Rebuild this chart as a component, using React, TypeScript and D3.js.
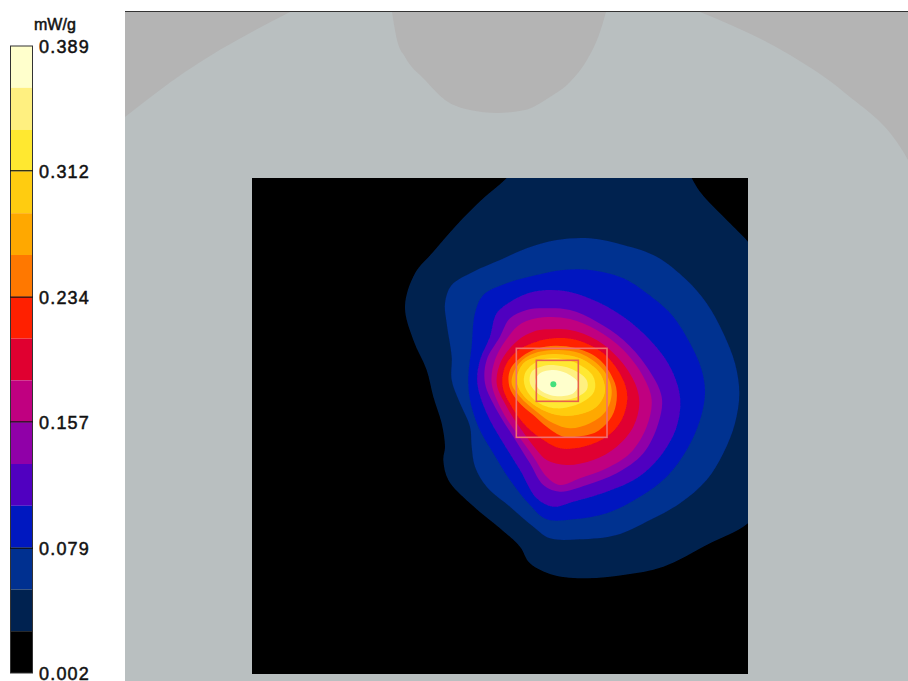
import * as d3 from "d3";

type Pt = [number, number];

// colour bar, top band to bottom band
const bandColors = [
  "#ffffcc", "#fff080", "#ffe830", "#ffcc10", "#ffa800", "#ff7800", "#ff2000", "#e00030",
  "#c00080", "#9000a8", "#5000c0", "#0018c0", "#003090", "#002250", "#000000",
];
const tickValues = [0.389, 0.312, 0.234, 0.157, 0.079, 0.002];
const innerTicks = [0.312, 0.234, 0.157, 0.079];

// SAR contours in scan units, lowest level first
const level1: Pt[] = [[350, 24], [390, -30], [880, -30], [905, 24], [930, 65], [990, 130], [1050, 190], [1074, 215], [1140, 300], [1140, 980], [1074, 1060], [950, 1125], [820, 1190], [700, 1215], [590, 1225], [490, 1215], [420, 1180], [390, 1130], [330, 1075], [240, 1000], [175, 930], [160, 870], [165, 830], [155, 760], [130, 680], [110, 600], [70, 510], [45, 410], [75, 310], [130, 245], [200, 165], [280, 85]];
const level2: Pt[] = [[500, 210], [600, 205], [700, 225], [800, 260], [890, 330], [950, 400], [1000, 490], [1035, 580], [1048, 670], [1035, 760], [1000, 850], [950, 930], [870, 1000], [780, 1050], [680, 1095], [570, 1108], [480, 1105], [430, 1070], [360, 1010], [290, 950], [255, 890], [245, 830], [240, 770], [210, 700], [185, 630], [185, 560], [170, 460], [165, 400], [185, 345], [250, 305], [330, 270], [410, 235]];
const level3: Pt[] = [[520, 300], [600, 300], [700, 325], [790, 385], [850, 440], [900, 520], [935, 600], [945, 670], [930, 750], [890, 840], [830, 920], [750, 980], [650, 1030], [550, 1048], [470, 1048], [420, 1005], [360, 930], [310, 850], [265, 770], [240, 690], [235, 620], [245, 530], [255, 430], [280, 375], [350, 340], [440, 315]];
const level4: Pt[] = [[430, 365], [520, 362], [610, 390], [700, 440], [780, 510], [840, 590], [870, 680], [860, 770], [810, 860], [740, 925], [650, 965], [550, 995], [490, 1010], [440, 985], [390, 900], [340, 820], [290, 730], [262, 640], [270, 570], [300, 500], [320, 430], [370, 390]];
const level5: Pt[] = [[460, 415], [540, 420], [620, 455], [700, 510], [770, 590], [815, 680], [805, 760], [760, 850], [680, 910], [590, 945], [510, 965], [460, 945], [420, 880], [370, 800], [320, 720], [285, 640], [290, 570], [330, 500], [360, 445], [410, 420]];
const level6: Pt[] = [[460, 442], [540, 447], [620, 480], [700, 540], [760, 620], [785, 690], [770, 770], [720, 850], [650, 895], [570, 925], [510, 945], [470, 920], [430, 860], [380, 790], [335, 720], [305, 640], [315, 570], [355, 500], [395, 460]];
const level7: Pt[] = [[470, 478], [540, 480], [620, 510], [690, 570], [735, 640], [748, 700], [730, 770], [680, 830], [610, 870], [530, 885], [470, 870], [440, 840], [395, 780], [350, 710], [320, 640], [335, 570], [385, 510], [430, 485]];
const level8: Pt[] = [[490, 505], [560, 510], [640, 550], [695, 620], [712, 680], [695, 750], [650, 800], [580, 830], [510, 835], [460, 810], [410, 770], [365, 710], [338, 650], [345, 590], [385, 540], [440, 515]];
const level9: Pt[] = [[495, 527], [560, 535], [630, 570], [675, 640], [680, 690], [665, 740], [620, 785], [560, 800], [520, 800], [470, 770], [430, 735], [385, 695], [358, 650], [360, 600], [395, 560], [445, 535]];
const level10: Pt[] = [[490, 540], [570, 550], [640, 600], [665, 660], [650, 720], [600, 760], [540, 775], [490, 760], [440, 725], [390, 680], [365, 640], [380, 590], [420, 555]];
const level11: Pt[] = [[490, 552], [570, 565], [630, 610], [645, 665], [620, 710], [560, 735], [500, 735], [440, 710], [395, 670], [380, 630], [400, 580], [440, 560]];
const level12: Pt[] = [[490, 565], [560, 580], [610, 620], [612, 665], [570, 700], [500, 715], [440, 695], [405, 650], [405, 610], [440, 575]];
const level13: Pt[] = [[490, 585], [545, 597], [590, 630], [590, 660], [550, 685], [490, 690], [445, 672], [420, 640], [425, 605], [460, 588]];
const level14: Pt[] = [[490, 600], [530, 610], [565, 640], [550, 670], [495, 678], [450, 660], [435, 635], [450, 610]];
const contours = [level1, level2, level3, level4, level5, level6, level7, level8, level9, level10, level11, level12, level13, level14];

// phantom outline, same units
const cornerLeft: Pt[] = [[-795, -159], [-615, -294], [-300, -474]];
const notch: Pt[] = [[6, -474], [21, -390], [45, -339], [105, -270], [165, -210], [240, -180], [321, -171], [405, -180], [480, -219], [540, -264], [591, -330], [630, -414], [648, -474]];
const cornerRight: Pt[] = [[930, -474], [1200, -345], [1365, -231], [1542, -51], [1554, -30]];

const peak: Pt = [490, 643];
const zoomCube = { x0: 379, x1: 651, y0: 535, y1: 802 };
const areaCube = { x0: 439, x1: 565, y0: 571, y1: 694 };

const x = d3.scaleLinear().domain([-414, 1074]).range([252, 748]);
const y = d3.scaleLinear().domain([24, 1512]).range([178, 674]);
const barY = d3.scaleLinear().domain([0.002, 0.389]).range([673, 46]);
const barBand = d3.scaleBand<string>().domain(bandColors).range([46, 673]);

const contourLine = d3
  .line<Pt>()
  .x((d) => x(d[0]))
  .y((d) => y(d[1]))
  .curve(d3.curveCatmullRomClosed.alpha(0.5));

const topY = y(-474);
const phantomArea = d3
  .area<Pt>()
  .x((d) => x(d[0]))
  .y0(topY)
  .y1((d) => y(d[1]))
  .curve(d3.curveMonotoneX);

export default function App() {
  const labelStyle = {
    fontFamily: "Liberation Sans",
    fontSize: 18,
    letterSpacing: 1.2,
    fill: "#111",
    stroke: "#111",
    strokeWidth: 0.5,
  };

  return (
    <svg width={908} height={681} style={{ position: "absolute", left: 0, top: 0, background: "#fff" }}>
      <defs>
        <clipPath id="scan">
          <rect x={x(-414)} y={y(24)} width={x(1074) - x(-414)} height={y(1512) - y(24)} />
        </clipPath>
        <clipPath id="panel">
          <rect x={125} y={11} width={783} height={670} />
        </clipPath>
        <filter id="soft">
          <feGaussianBlur stdDeviation={0.7} />
        </filter>
      </defs>

      {/* phantom */}
      <rect x={125} y={11} width={783} height={670} fill="#b9bfc0" />
      <g clipPath="url(#panel)" fill="#b4b4b4">
        <path d={phantomArea(cornerLeft) ?? ""} />
        <path d={phantomArea(notch) ?? ""} />
        <path d={phantomArea(cornerRight) ?? ""} />
      </g>
      <line x1={125} x2={908} y1={11.5} y2={11.5} stroke="#333" />

      {/* scan area */}
      <g clipPath="url(#scan)">
        <rect x={x(-414)} y={y(24)} width={x(1074) - x(-414)} height={y(1512) - y(24)} fill="#000" />
        <g filter="url(#soft)">
          {contours.map((c, i) => (
            <path key={i} d={contourLine(c) ?? ""} fill={bandColors[bandColors.length - 2 - i]} />
          ))}
        </g>
      </g>

      {/* cubes and peak */}
      <rect
        x={x(zoomCube.x0)}
        y={y(zoomCube.y0)}
        width={x(zoomCube.x1) - x(zoomCube.x0)}
        height={y(zoomCube.y1) - y(zoomCube.y0)}
        fill="none"
        stroke="#f07070"
        strokeWidth={1.6}
      />
      <rect
        x={x(areaCube.x0)}
        y={y(areaCube.y0)}
        width={x(areaCube.x1) - x(areaCube.x0)}
        height={y(areaCube.y1) - y(areaCube.y0)}
        fill="none"
        stroke="#e8604c"
        strokeWidth={1.6}
      />
      <circle cx={x(peak[0])} cy={y(peak[1])} r={3} fill="#44e07c" />

      {/* colour bar */}
      {bandColors.map((c) => (
        <rect key={c} x={10} y={barBand(c)} width={23} height={barBand.bandwidth()} fill={c} />
      ))}
      <rect x={10.5} y={46} width={22} height={627} fill="none" stroke="#333" />
      {innerTicks.map((t) => (
        <line key={t} x1={10} x2={33} y1={barY(t)} y2={barY(t)} stroke="#111" strokeWidth={1.2} />
      ))}
      {tickValues.map((t) => (
        <text key={t} x={39} y={barY(t) + 7} style={labelStyle}>
          {t.toFixed(3)}
        </text>
      ))}
      <text x={34} y={30} style={{ ...labelStyle, fontSize: 16, letterSpacing: 0 }}>
        mW/g
      </text>
    </svg>
  );
}
